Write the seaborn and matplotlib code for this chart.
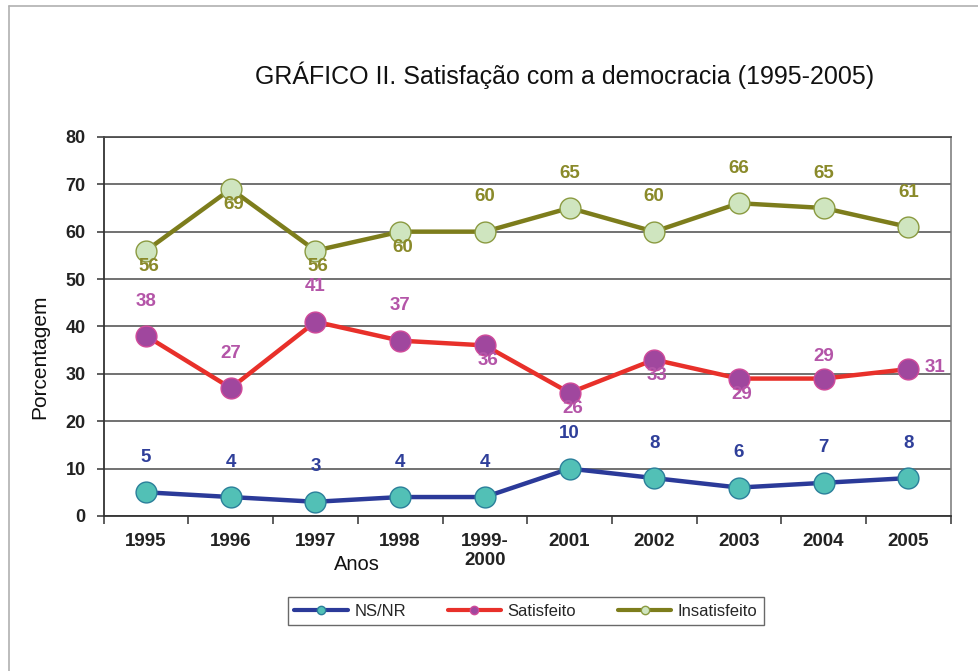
import matplotlib
matplotlib.use("Agg")
import matplotlib.pyplot as plt
from matplotlib.lines import Line2D
import seaborn as sns
import pandas as pd
import numpy as np

# Data
anos = ["1995", "1996", "1997", "1998", "1999-\n2000", "2001", "2002", "2003", "2004", "2005"]
ns_nr = [5, 4, 3, 4, 4, 10, 8, 6, 7, 8]
satisfeito = [38, 27, 41, 37, 36, 26, 33, 29, 29, 31]
insatisfeito = [56, 69, 56, 60, 60, 65, 60, 66, 65, 61]

# where each value label sits relative to its point
pos_ns = ["up"] * 10
pos_sat = ["up", "up", "up", "up", "down", "down", "down", "down", "near", "right"]
pos_ins = ["down", "down", "down", "down", "up", "up", "up", "up", "up", "up"]

sns.set_theme(style="white")
plt.rcParams["font.family"] = ["Liberation Sans", "DejaVu Sans"]

fig = plt.figure(figsize=(9.79, 6.71), dpi=100)
ax = fig.add_axes([0.106, 0.231, 0.865, 0.565])

df = pd.DataFrame({"Ano": anos, "NS/NR": ns_nr, "Satisfeito": satisfeito,
                   "Insatisfeito": insatisfeito})

series = [
    ("NS/NR", "#2b3a99", "#52c0b6", "#2a7f9a", "#2f3f9a", pos_ns),
    ("Satisfeito", "#e8302a", "#a0479e", "#d04a9a", "#b455a8", pos_sat),
    ("Insatisfeito", "#7d7d1c", "#cfe5bf", "#8a9a40", "#8a8a2a", pos_ins),
]

# Draw lines
for name, lc, fc, ec, tc, pos in series:
    sns.lineplot(data=df, x="Ano", y=name, ax=ax, sort=False, color=lc,
                 linewidth=3.2, marker="o", markersize=15,
                 markerfacecolor=fc, markeredgecolor=ec, markeredgewidth=1.0,
                 zorder=3)

# Value labels
offsets = {"up": (0, 19, "center", "bottom"), "down": (2, -5, "center", "top"),
           "near": (0, 10, "center", "bottom"), "right": (12, 1, "left", "center")}
for name, lc, fc, ec, tc, pos in series:
    for i, v in enumerate(df[name]):
        dx, dy, ha, va = offsets[pos[i]]
        ax.annotate(str(v), (i, v), xytext=(dx, dy), textcoords="offset points",
                    ha=ha, va=va, fontsize=13.5, fontweight="bold", color=tc,
                    zorder=5)

ax.set_ylim(0, 80)
ax.set_xlim(-0.5, 9.5)
ax.set_yticks(np.arange(0, 81, 10))
ax.yaxis.grid(True, color="#4a4a4a", linewidth=1.1)
ax.set_axisbelow(True)
ax.set_xlabel("")
ax.set_ylabel("")

ax.set_xticks(range(len(anos)))
ax.set_xticklabels(anos, fontsize=13.5, fontweight="bold", color="#222222")
ax.set_xticks(np.arange(-0.5, 10, 1), minor=True)
ax.tick_params(axis="x", which="major", length=0, pad=12)
ax.tick_params(axis="x", which="minor", length=6, width=1.1, color="#333333",
               direction="out", bottom=True)
ax.tick_params(axis="y", length=5, width=1.1, color="#333333", direction="out",
               left=True, pad=8)
for t in ax.get_yticklabels():
    t.set_fontsize(13)
    t.set_fontweight("bold")
    t.set_color("#222222")

for side in ["left", "bottom"]:
    ax.spines[side].set_color("#333333")
    ax.spines[side].set_linewidth(1.3)
ax.spines["top"].set_color("#4a4a4a")
ax.spines["right"].set_color("#777777")
ax.spines["right"].set_linewidth(1.1)

fig.text(565 / 979, 1 - 75 / 671, "GRÁFICO II. Satisfação com a democracia (1995-2005)",
         ha="center", va="center", fontsize=18, color="#111111")
fig.text(40 / 979, 1 - 357 / 671, "Porcentagem", rotation=90, ha="center",
         va="center", fontsize=15, color="#111111")
fig.text(357 / 979, 1 - 565 / 671, "Anos", ha="center", va="center",
         fontsize=14.5, color="#111111")

# Legend
handles = [Line2D([0], [0], color=lc, linewidth=3, marker="o", markersize=6,
                  markerfacecolor=fc, markeredgecolor=ec)
           for name, lc, fc, ec, tc, pos in series]
fig.legend(handles, [s[0] for s in series], loc="center", ncol=3,
           bbox_to_anchor=(526 / 979, 1 - 611 / 671), frameon=True, fancybox=False,
           edgecolor="#444444", fontsize=12, handlelength=3.2, columnspacing=2.5,
           handletextpad=0.4, borderpad=0.4)

# Light page border on top and left
fig.add_artist(Line2D([9 / 979, 1], [1 - 6 / 671, 1 - 6 / 671], color="#b0b0b0",
                      linewidth=1.2, transform=fig.transFigure))
fig.add_artist(Line2D([9 / 979, 9 / 979], [0, 1 - 6 / 671], color="#b0b0b0",
                      linewidth=1.2, transform=fig.transFigure))

fig.savefig("out.png", dpi=100, facecolor="white")
